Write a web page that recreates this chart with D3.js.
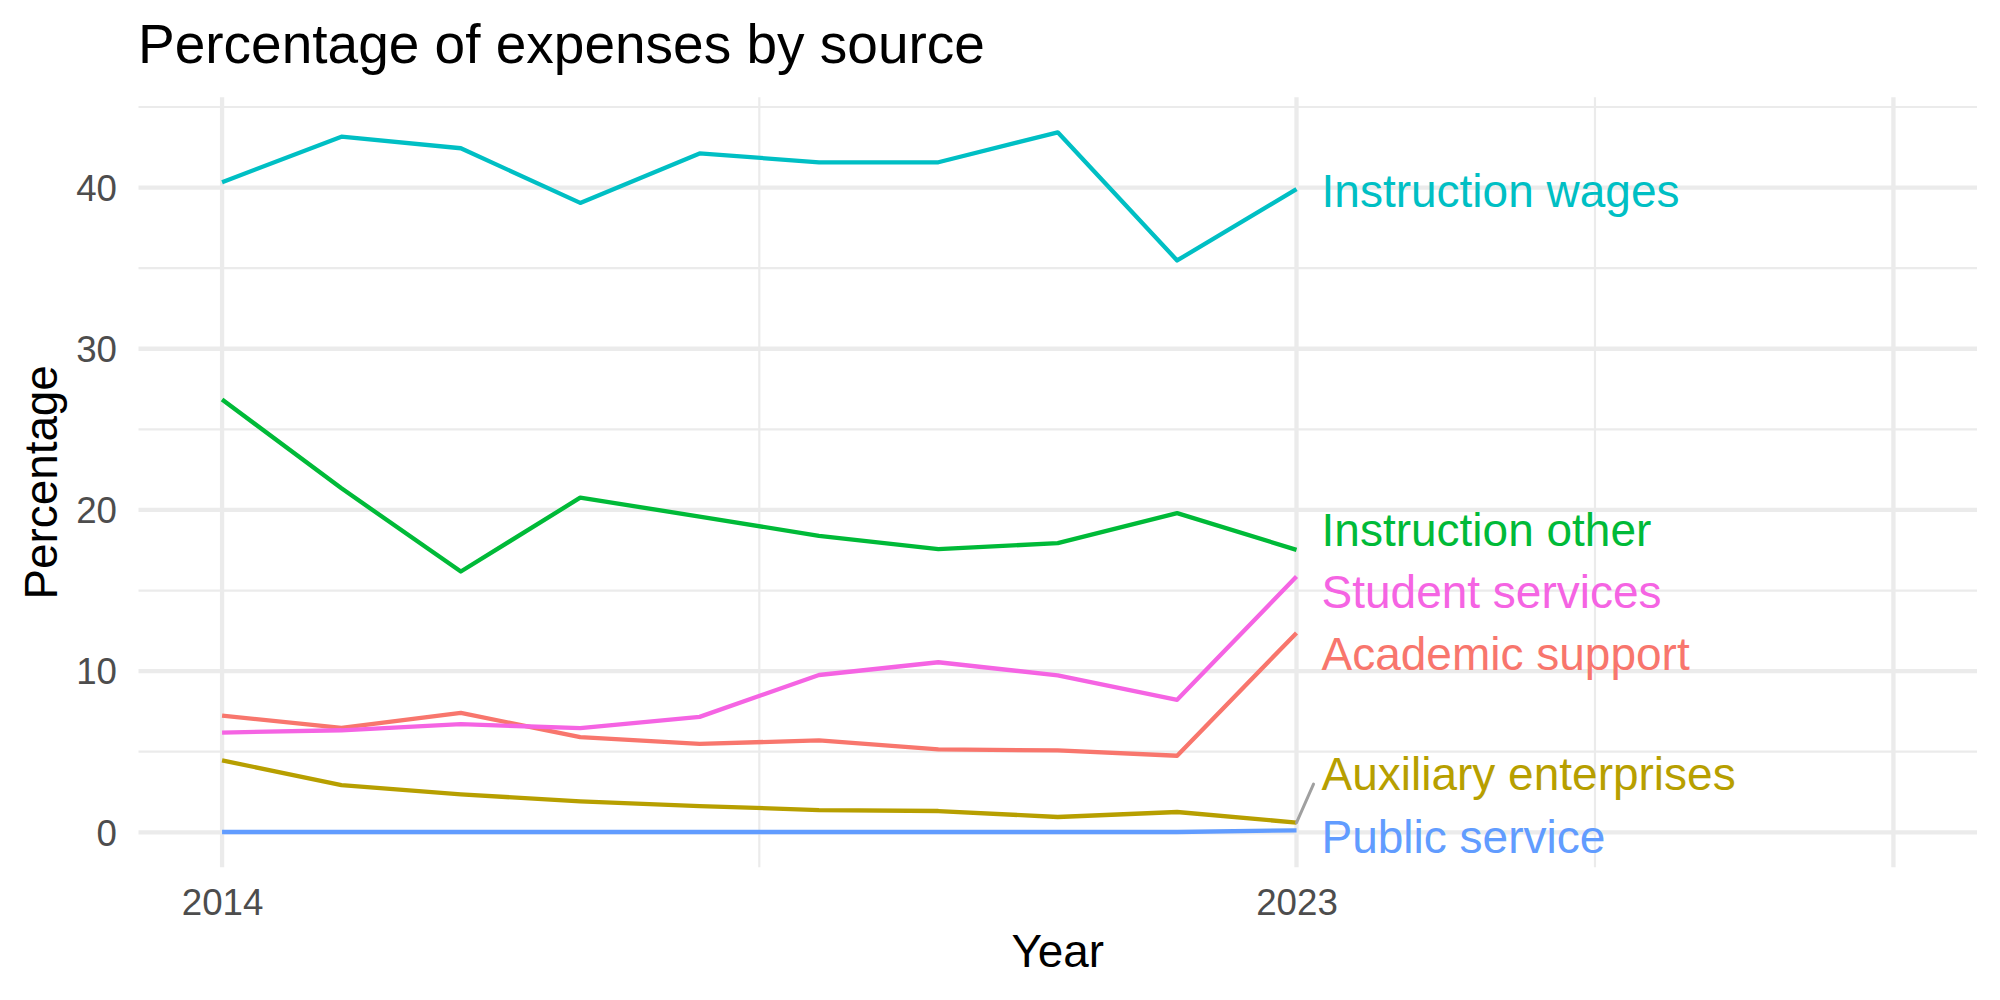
<!DOCTYPE html>
<html>
<head>
<meta charset="utf-8">
<script src="https://cdn.jsdelivr.net/npm/d3@7"></script>
<style>
  html, body { margin: 0; padding: 0; background: #fff; }
  svg { display: block; }
  text { font-family: "Liberation Sans", Arial, Helvetica, sans-serif; }
</style>
</head>
<body>
<svg id="chart" width="2000" height="1000"></svg>
<script>
// ---------------- data ----------------
const years = [2014, 2015, 2016, 2017, 2018, 2019, 2020, 2021, 2022, 2023];
const seriesNames = ["Academic support", "Auxiliary enterprises", "Instruction other",
                     "Instruction wages", "Public service", "Student services"];
const academicSupport      = [7.24, 6.48, 7.41, 5.90, 5.49, 5.70, 5.14, 5.08, 4.75, 12.37];
const auxiliaryEnterprises = [4.46, 2.93, 2.35, 1.92, 1.63, 1.38, 1.32, 0.95, 1.26, 0.60];
const instructionOther     = [26.85, 21.34, 16.18, 20.76, 19.59, 18.39, 17.57, 17.94, 19.80, 17.52];
const instructionWages     = [40.33, 43.16, 42.44, 39.05, 42.12, 41.57, 41.57, 43.43, 35.48, 39.90];
const publicService        = [0.02, 0.02, 0.02, 0.02, 0.02, 0.02, 0.02, 0.02, 0.02, 0.12];
const studentServices      = [6.19, 6.33, 6.71, 6.46, 7.16, 9.76, 10.55, 9.74, 8.22, 15.87];
const seriesValues = [academicSupport, auxiliaryEnterprises, instructionOther,
                      instructionWages, publicService, studentServices];
// repelled label positions (data units, vertical centre of each label)
const labelY = [11.07, 3.64, 18.81, 39.80, -0.29, 14.94];

const yMajorTicks = [0, 10, 20, 30, 40];
const yMinorTicks = [5, 15, 25, 35, 45];
const xMajorTicks = [2014, 2023, 2028];
const xMinorTicks = [2018.5, 2025.5];
const xTickLabels = [2014, 2023];
const xLimit = [2014, 2028];

const colors = ["#F8766D", "#B79F00", "#00BA38", "#00BFC4", "#619CFF", "#F564E3"];

// ---------------- layout ----------------
const svg = d3.select("#chart");
const panel = { left: 138.5, right: 1977, top: 97.3, bottom: 867.3 };

const xr = xLimit[1] - xLimit[0];
const x = d3.scaleLinear()
  .domain([xLimit[0] - 0.05 * xr, xLimit[1] + 0.05 * xr])
  .range([panel.left, panel.right]);

const yMax = d3.max(seriesValues.flat());
const yMin = 0;
const yr = yMax - yMin;
const y = d3.scaleLinear()
  .domain([yMin - 0.05 * yr, yMax + 0.05 * yr])
  .range([panel.bottom, panel.top]);

svg.append("rect").attr("width", 2000).attr("height", 1000).attr("fill", "#fff");

const grid = svg.append("g");
// minor grid
grid.selectAll(".ymin").data(yMinorTicks).join("line")
  .attr("x1", panel.left).attr("x2", panel.right)
  .attr("y1", d => y(d)).attr("y2", d => y(d))
  .attr("stroke", "#EBEBEB").attr("stroke-width", 2.2);
grid.selectAll(".xmin").data(xMinorTicks).join("line")
  .attr("y1", panel.top).attr("y2", panel.bottom)
  .attr("x1", d => x(d)).attr("x2", d => x(d))
  .attr("stroke", "#EBEBEB").attr("stroke-width", 2.2);
// major grid
grid.selectAll(".ymaj").data(yMajorTicks).join("line")
  .attr("x1", panel.left).attr("x2", panel.right)
  .attr("y1", d => y(d)).attr("y2", d => y(d))
  .attr("stroke", "#EBEBEB").attr("stroke-width", 4.3);
grid.selectAll(".xmaj").data(xMajorTicks).join("line")
  .attr("y1", panel.top).attr("y2", panel.bottom)
  .attr("x1", d => x(d)).attr("x2", d => x(d))
  .attr("stroke", "#EBEBEB").attr("stroke-width", 4.3);

// axes labels via d3 axes (domain/ticks hidden)
const yAxis = svg.append("g")
  .attr("transform", `translate(${panel.left},0)`)
  .call(d3.axisLeft(y).tickValues(yMajorTicks).tickSize(0).tickPadding(21.5).tickFormat(d3.format("d")));
yAxis.select(".domain").remove();
yAxis.selectAll("text")
  .attr("font-size", 36.7).attr("fill", "#4D4D4D")
  .attr("font-family", "Liberation Sans, Arial, sans-serif")
  .attr("dy", "0.35em");

const xAxis = svg.append("g")
  .attr("transform", `translate(0,${panel.bottom})`)
  .call(d3.axisBottom(x).tickValues(xTickLabels).tickSize(0).tickPadding(0).tickFormat(d3.format("d")));
xAxis.select(".domain").remove();
xAxis.selectAll("text")
  .attr("font-size", 36.7).attr("fill", "#4D4D4D")
  .attr("font-family", "Liberation Sans, Arial, sans-serif")
  .attr("y", 48).attr("dy", 0);

// lines
const line = d3.line().x((d, i) => x(years[i])).y(d => y(d));
svg.append("g").selectAll("path").data(seriesValues).join("path")
  .attr("d", d => line(d))
  .attr("fill", "none")
  .attr("stroke", (d, i) => colors[i])
  .attr("stroke-width", 4.3)
  .attr("stroke-linejoin", "round")
  .attr("stroke-linecap", "butt");

// repelled labels
const lastYear = years[years.length - 1];
const labelX = x(lastYear) + 25;
const labels = svg.append("g");
seriesNames.forEach((name, i) => {
  const py = y(seriesValues[i][seriesValues[i].length - 1]);
  const ly = y(labelY[i]);
  if (Math.abs(py - ly) > 30) {
    labels.append("line")
      .attr("x1", x(lastYear)).attr("y1", py)
      .attr("x2", labelX - 8).attr("y2", ly + 10.5)
      .attr("stroke", "#A0A0A0").attr("stroke-width", 3)
      .attr("stroke-linecap", "round");
  }
  labels.append("text")
    .attr("x", labelX).attr("y", ly).attr("dy", "0.358em")
    .attr("font-size", 46).attr("fill", colors[i])
    .text(name);
});

// titles
svg.append("text")
  .attr("x", 138).attr("y", 62.7)
  .attr("font-size", 55).attr("fill", "#000")
  .text("Percentage of expenses by source");

svg.append("text")
  .attr("x", (panel.left + panel.right) / 2).attr("y", 966.7)
  .attr("text-anchor", "middle")
  .attr("font-size", 45.8).attr("fill", "#000")
  .text("Year");

svg.append("text")
  .attr("transform", `translate(57,${(panel.top + panel.bottom) / 2}) rotate(-90)`)
  .attr("text-anchor", "middle")
  .attr("font-size", 45.8).attr("fill", "#000")
  .text("Percentage");
</script>
</body>
</html>
